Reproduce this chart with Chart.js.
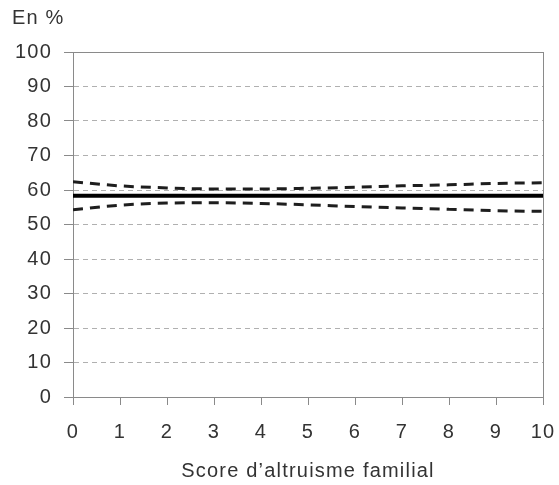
<!DOCTYPE html>
<html>
<head>
<meta charset="utf-8">
<script src="https://cdn.jsdelivr.net/npm/chart.js@4/dist/chart.umd.min.js"></script>
<style>
  html, body { margin: 0; padding: 0; background: #fff; }
  #wrap { width: 559px; height: 485px; position: relative; }
</style>
</head>
<body>
<div id="wrap"><canvas id="c"></canvas></div>
<script>
// Score d'altruisme familial (0 to 10)
const scores = [0, 1, 2, 3, 4, 5, 6, 7, 8, 9, 10];
// Estimated share (%) and its confidence bounds
const estimate   = [58.3, 58.3, 58.3, 58.3, 58.3, 58.3, 58.3, 58.3, 58.3, 58.3, 58.3];
const upperBound = [62.4, 61.2, 60.6, 60.3, 60.3, 60.5, 60.8, 61.2, 61.5, 61.9, 62.1];
const lowerBound = [54.3, 55.6, 56.2, 56.3, 56.1, 55.7, 55.2, 54.8, 54.4, 54.0, 53.8];
const yTickValues = [0, 10, 20, 30, 40, 50, 60, 70, 80, 90, 100];
const xTickValues = [0, 1, 2, 3, 4, 5, 6, 7, 8, 9, 10];

const pts = arr => scores.map((s, i) => ({ x: s, y: arr[i] }));

const TEXT = '#333333';
const AXIS = '#8a8a8a';
const GRID = '#b0b0b0';
const FONT = { family: "'Liberation Sans', Arial, Helvetica, sans-serif", size: 20, weight: 'normal' };

// Slightly wider tracking for all canvas text
const tracking = {
  id: 'tracking',
  beforeLayout(chart) { chart.ctx.letterSpacing = '1.2px'; },
  beforeDraw(chart) { chart.ctx.letterSpacing = '1.2px'; }
};

new Chart(document.getElementById('c'), {
  type: 'line',
  data: {
    datasets: [
      {
        label: 'Borne haute',
        data: pts(upperBound),
        borderColor: '#1e1e1e',
        borderWidth: 3,
        borderDash: [10, 7],
        pointRadius: 0,
        cubicInterpolationMode: 'monotone',
        fill: false
      },
      {
        label: 'Borne basse',
        data: pts(lowerBound),
        borderColor: '#1e1e1e',
        borderWidth: 3,
        borderDash: [10, 7],
        pointRadius: 0,
        cubicInterpolationMode: 'monotone',
        fill: false
      },
      {
        label: 'Estimation',
        data: pts(estimate),
        borderColor: '#000000',
        borderWidth: 4,
        pointRadius: 0,
        fill: false
      }
    ]
  },
  plugins: [tracking],
  options: {
    responsive: true,
    maintainAspectRatio: false,
    animation: false,
    layout: { padding: { left: 12, right: 16, top: 0, bottom: 0 } },
    plugins: {
      legend: { display: false },
      tooltip: { enabled: false },
      title: {
        display: true,
        text: 'En %',
        align: 'start',
        color: TEXT,
        font: FONT,
        padding: { top: 6, bottom: 22 }
      }
    },
    scales: {
      x: {
        type: 'linear',
        min: 0,
        max: 10,
        afterFit(scale) {
          scale.height = 88;
          scale.paddingLeft = 0;
          scale.paddingRight = 0;
        },
        afterBuildTicks(scale) { scale.ticks = xTickValues.map(v => ({ value: v })); },
        ticks: {
          color: TEXT,
          font: FONT,
          padding: 15,
          maxRotation: 0,
          autoSkip: false
        },
        grid: {
          color: ctx => (ctx.tick && ctx.tick.value === 10) ? AXIS : 'rgba(0,0,0,0)',
          lineWidth: 1,
          drawTicks: true,
          tickLength: 8,
          tickColor: AXIS,
          tickWidth: 1
        },
        border: { display: true, color: AXIS, width: 1 },
        title: {
          display: true,
          text: 'Score d\u2019altruisme familial',
          color: TEXT,
          font: FONT,
          padding: { top: 0, bottom: 2 }
        }
      },
      y: {
        type: 'linear',
        min: 0,
        max: 100,
        afterFit(scale) { scale.width = 61; },
        afterBuildTicks(scale) { scale.ticks = yTickValues.map(v => ({ value: v })); },
        ticks: {
          color: TEXT,
          font: FONT,
          padding: 12
        },
        grid: {
          color: ctx => (ctx.tick && ctx.tick.value === 100) ? AXIS : GRID,
          lineWidth: 1,
          drawTicks: true,
          tickLength: 9,
          tickColor: AXIS,
          tickWidth: 1
        },
        border: {
          display: true,
          color: AXIS,
          width: 1,
          dash: ctx => (ctx.tick && ctx.tick.value !== 100 && ctx.tick.value !== 0) ? [5, 4] : []
        }
      }
    }
  }
});
</script>
</body>
</html>
